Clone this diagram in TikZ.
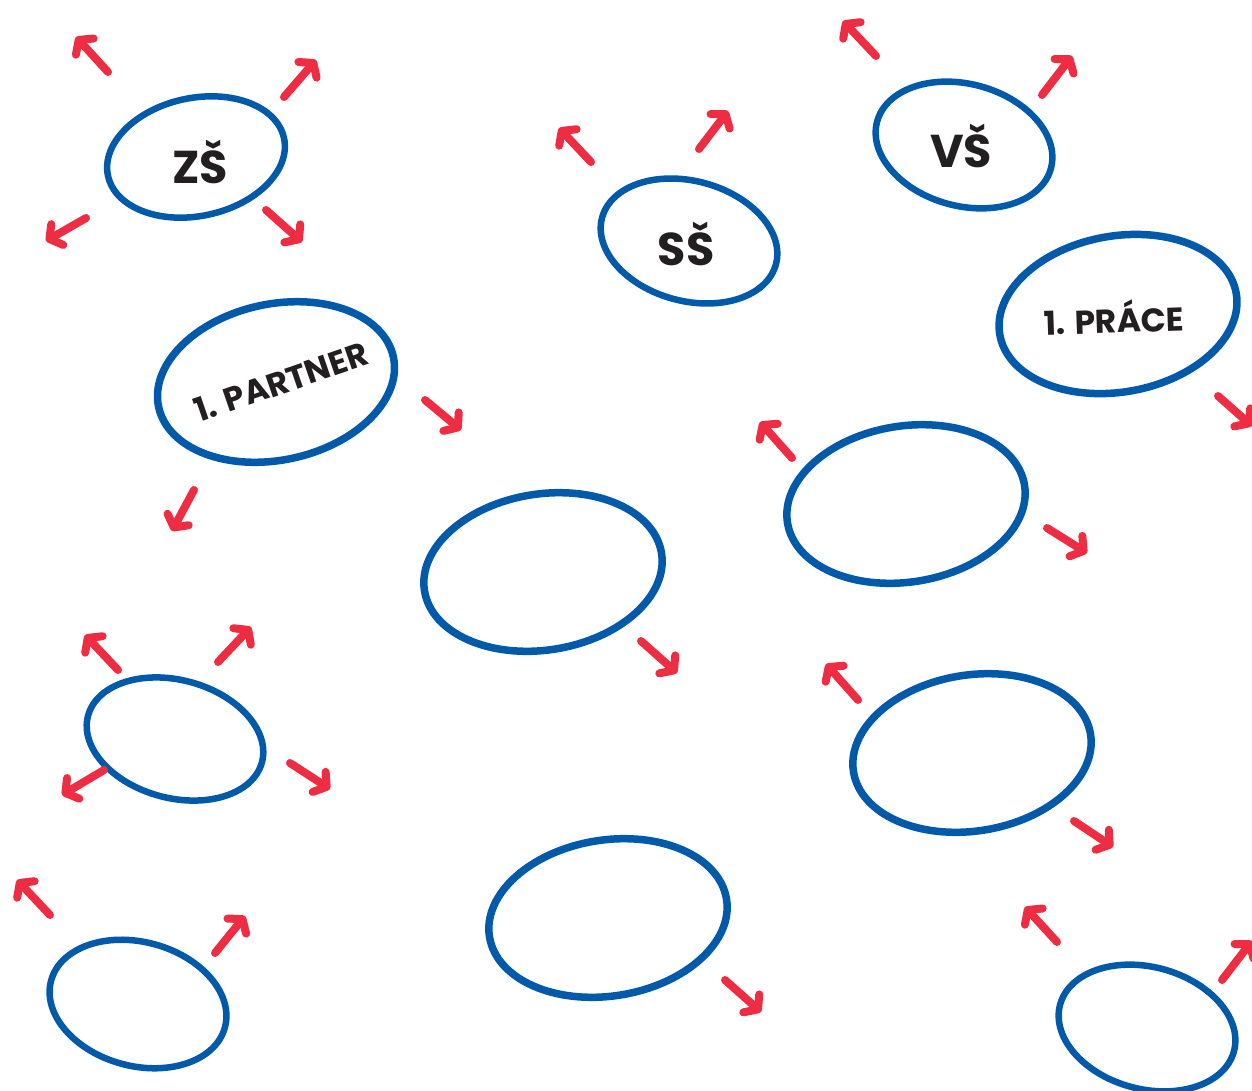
\documentclass[tikz,border=0pt]{standalone}
\usepackage{fontspec}
\newfontfamily\hand{Poppins}
\usetikzlibrary{arrows.meta,shapes.geometric}
\definecolor{ringblue}{HTML}{0059A9}
\definecolor{arrred}{HTML}{EE2D42}
\definecolor{ink}{HTML}{231F20}
\tikzset{
  ring/.style={draw=ringblue, line width=6.5pt, ellipse, inner sep=0pt, outer sep=0pt},
  bigring/.style={ring, line width=7.5pt, minimum width=240pt, minimum height=156pt},
  smallring/.style={ring, minimum width=180pt, minimum height=118pt},
  outarrow/.style={draw=arrred, line width=8pt, line cap=round,
    -{Straight Barb[length=9pt,width=24pt,round]}},
  label/.style={text=ink, font=\hand\bfseries, inner sep=0pt}
}
\begin{document}
\begin{tikzpicture}[x=1pt,y=-1pt]
\useasboundingbox (0,0) rectangle (1252,1091);
% rings
\node[smallring, rotate=12] (zs) at (196,157) {};
\node[smallring, rotate=-15, minimum height=120pt] (ss) at (689,241) {};
\node[smallring, rotate=-15, minimum height=122pt] (vs) at (964,145) {};
\node[bigring, rotate=12] (partner) at (276,382) {};
\node[bigring, rotate=10] (prace) at (1118,314) {};
\node[bigring, rotate=9] (e6) at (906,504) {};
\node[bigring, rotate=9] (e7) at (543,572) {};
\node[smallring, rotate=-15] (e8) at (175,739) {};
\node[bigring, rotate=9] (e9) at (972,753) {};
\node[smallring, rotate=-15, minimum height=124pt] (e10) at (138,1004) {};
\node[bigring, rotate=9] (e11) at (608,918) {};
\node[smallring, rotate=-15, minimum height=122pt] (e12) at (1147,1028) {};
% labels
\node[label, font=\hand\bfseries\fontsize{46}{46}\selectfont] (tzs) at (200,162) {ZŠ};
\node[label, font=\hand\bfseries\fontsize{46}{46}\selectfont] (tss) at (686,244) {SŠ};
\node[label, font=\hand\bfseries\fontsize{46}{46}\selectfont] (tvs) at (961,146) {VŠ};
\node[label, font=\hand\bfseries\fontsize{33}{33}\selectfont, rotate=19] (tpartner) at (281,382) {1. PARTNER};
\node[label, font=\hand\bfseries\fontsize{33}{33}\selectfont, rotate=2] (tprace) at (1114,317) {1. PRÁCE};
% arrows
\draw[outarrow] (108,72) -- (76,37);
\draw[outarrow] (284,97) -- (316,60);
\draw[outarrow] (86,218) -- (46,241);
\draw[outarrow] (266,210) -- (302,242);
\draw[outarrow] (591,162) -- (559,128);
\draw[outarrow] (699,149) -- (728,111);
\draw[outarrow] (876,56) -- (843,21);
\draw[outarrow] (1042,95) -- (1072,56);
\draw[outarrow] (425,400) -- (461,430);
\draw[outarrow] (194,490) -- (172,531);
\draw[outarrow] (1218,396) -- (1252,426);
\draw[outarrow] (792,458) -- (760,422);
\draw[outarrow] (1047,528) -- (1087,553);
\draw[outarrow] (641,641) -- (677,673);
\draw[outarrow] (118,670) -- (85,635);
\draw[outarrow] (218,662) -- (251,627);
\draw[outarrow] (104,770) -- (62,795);
\draw[outarrow] (290,763) -- (330,789);
\draw[outarrow] (858,700) -- (826,664);
\draw[outarrow] (1074,821) -- (1113,847);
\draw[outarrow] (50,915) -- (17,880);
\draw[outarrow] (215,953) -- (245,916);
\draw[outarrow] (725,980) -- (761,1012);
\draw[outarrow] (1057,942) -- (1025,907);
\draw[outarrow] (1222,980) -- (1252,941);
\end{tikzpicture}
\end{document}
